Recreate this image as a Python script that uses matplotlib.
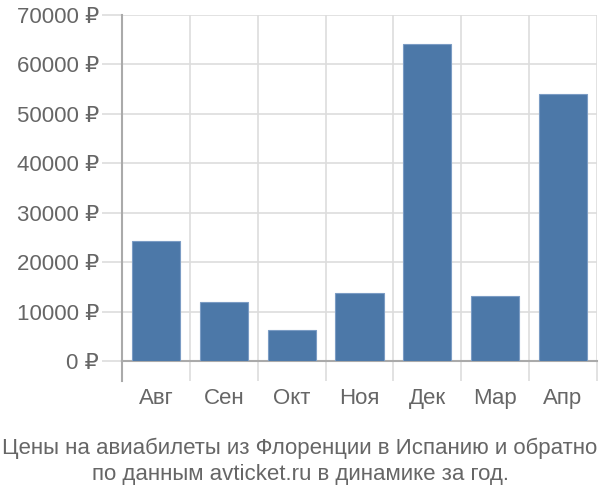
import matplotlib
matplotlib.use('Agg')
import numpy as np
import matplotlib.pyplot as plt

months = ['Авг', 'Сен', 'Окт', 'Ноя', 'Дек', 'Мар', 'Апр']
prices = [24300, 12000, 6300, 13800, 64100, 13200, 54000]
yticks = [0, 10000, 20000, 30000, 40000, 50000, 60000, 70000]
title = 'Цены на авиабилеты из Флоренции в Испанию и обратно\nпо данным avticket.ru в динамике за год.'

plt.rcParams['font.family'] = ['Liberation Sans', 'DejaVu Sans']

fig = plt.figure(figsize=(6, 5), dpi=100)
ax = fig.add_axes([122/600, 1 - 361/500, 475/600, 346/500])

x = np.arange(len(months))
ax.bar(x, prices, width=0.71, color='#4c78a8', edgecolor='#7b9cc4', linewidth=0.8, zorder=3)

ax.set_xlim(-0.5, len(months) - 0.5)
ax.set_ylim(0, 70000)
ax.set_yticks(yticks)
ax.set_yticklabels([f'{v} ₽' for v in yticks])
ax.set_xticks(x)
ax.set_xticklabels(months)
ax.set_xticks(np.arange(-0.5, len(months)), minor=True)

ax.grid(axis='y', color='#dddddd', linewidth=1.2, zorder=0)
ax.grid(axis='x', which='minor', color='#dddddd', linewidth=1.2, zorder=0)
ax.tick_params(axis='y', length=14.4, width=1.2, color='#dddddd', labelsize=16, labelcolor='#666666', pad=2)
ax.tick_params(axis='x', which='major', length=0, labelsize=16, labelcolor='#666666', pad=19.5)
ax.tick_params(axis='x', which='minor', length=14.4, width=1.2, color='#dddddd')

for s in ['top', 'right']:
    ax.spines[s].set_visible(False)
ax.spines['left'].set_color('#aaaaaa')
ax.spines['left'].set_linewidth(1.5)
ax.spines['left'].set_bounds(0, 70000)
ax.spines['bottom'].set_color('#aaaaaa')
ax.spines['bottom'].set_linewidth(1.5)

# y axis line continues down past the baseline
ax.plot([-0.5, -0.5], [0, -4000], color='#aaaaaa', linewidth=1.5, clip_on=False, zorder=4)

fig.text(0.5, 0.077, title, ha='center', va='center', fontsize=16, color='#666666', linespacing=1.35)

fig.savefig('out.png', dpi=100)
